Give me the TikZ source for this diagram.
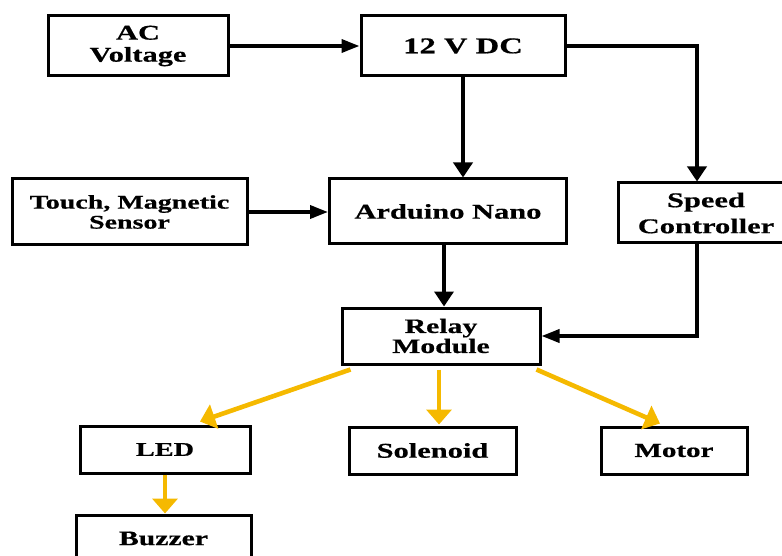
\documentclass[tikz,border=0pt]{standalone}
\usepackage{fontspec}
\setmainfont{Liberation Serif}[FakeStretch=1.45,FakeBold=0.6]
\usetikzlibrary{arrows.meta}
\definecolor{relayyellow}{RGB}{245,185,0}
\tikzset{
  blk/.style={draw=black, line width=3pt, inner sep=0pt, align=center,
    font=\bfseries\fontsize{21}{21}\selectfont},
  conn/.style={draw=black, line width=3.6pt},
  harrow/.style={conn, -{Triangle[length=18pt,width=13pt]}},
  varrow/.style={conn, -{Triangle[length=15pt,width=19pt]}},
  yarrow/.style={draw=relayyellow, line width=4.6pt, -{Triangle[length=15pt,width=25pt]}}
}
\begin{document}
\begin{tikzpicture}[x=1pt,y=-1pt]
\useasboundingbox (0,0) rectangle (782,556);
\node[blk, minimum width=180pt, minimum height=60pt, font=\bfseries\fontsize{21}{22}\selectfont] (ac) at (138,46) {AC\\Voltage};
\node[blk, minimum width=204pt, minimum height=60pt, font=\bfseries\fontsize{22.5}{22}\selectfont] (dc) at (463,46) {12 V DC};
\node[blk, minimum width=235pt, minimum height=66pt, font=\bfseries\fontsize{19.3}{20}\selectfont] (touch) at (129.5,212) {Touch, Magnetic\\Sensor};
\node[blk, minimum width=237pt, minimum height=65pt] (ard) at (448,211.5) {Arduino Nano};
\node[blk, minimum width=176pt, minimum height=60pt, font=\bfseries\fontsize{21}{26}\selectfont] (speed) at (706,213) {Speed\\Controller};
\node[blk, minimum width=198pt, minimum height=56pt, font=\bfseries\fontsize{20.5}{20}\selectfont] (relay) at (441,336) {Relay\\Module};
\node[blk, minimum width=170pt, minimum height=47pt, font=\bfseries\fontsize{19.5}{20}\selectfont] (led) at (165,449.5) {LED};
\node[blk, minimum width=167pt, minimum height=47pt] (sol) at (432.5,450.5) {Solenoid};
\node[blk, minimum width=146pt, minimum height=47pt, font=\bfseries\fontsize{20}{20}\selectfont] (motor) at (674,450.5) {Motor};
\node[blk, minimum width=175pt, minimum height=47pt, font=\bfseries\fontsize{20.5}{20}\selectfont] (buzz) at (163.5,538.5) {Buzzer};

\draw[harrow] (ac.east) -- (dc.west);
\draw[varrow] (dc.east) -| ([shift={(-9,0)}]speed.north);
\draw[varrow] (dc.south) -- (dc.south |- ard.north);
\draw[harrow] (touch.east) -- (ard.west |- touch.east);
\draw[varrow] ([shift={(-4,0)}]ard.south) -- ([shift={(-4,0)}]ard.south |- relay.north);
\draw[harrow] ([shift={(-9,0)}]speed.south) |- (relay.east);

\draw[yarrow] ([shift={(10,4)}]relay.south west) -- ([shift={(35,-3)}]led.north);
\draw[yarrow] ([shift={(-2,4)}]relay.south) -- ([shift={(-2,-1)}]relay.south |- sol.north);
\draw[yarrow] ([shift={(-5,4)}]relay.south east) -- ([shift={(-14,-2)}]motor.north);
\draw[yarrow] (led.south) -- (led.south |- buzz.north);
\end{tikzpicture}
\end{document}
